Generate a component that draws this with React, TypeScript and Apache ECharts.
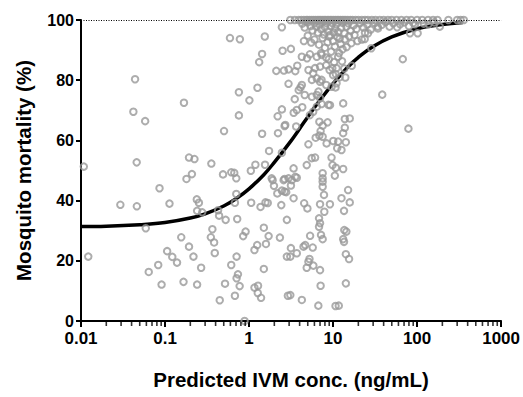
import React, { useEffect, useRef } from 'react';
import * as echarts from 'echarts';

// Axis ticks
const xTickLabels = ['0.01', '0.1', '1', '10', '100', '1000'];
const yTickValues = [0, 20, 40, 60, 80, 100];
const xMinorTicks = [
  0.02, 0.03, 0.04, 0.05, 0.06, 0.07, 0.08, 0.09,
  0.2, 0.3, 0.4, 0.5, 0.6, 0.7, 0.8, 0.9,
  2, 3, 4, 5, 6, 7, 8, 9,
  20, 30, 40, 50, 60, 70, 80, 90,
  200, 300, 400, 500, 600, 700, 800, 900,
];

// Fitted curve
const curveX = [0.01, 0.02, 0.05, 0.1, 0.2, 0.3, 0.5, 0.7, 1, 1.5, 2, 3, 4, 5, 7, 10, 15, 20, 30, 50, 100, 200, 350];
const curveY = [31.4, 31.5, 32.0, 32.7, 34.2, 35.6, 38.2, 40.6, 43.9, 48.6, 52.7, 59.0, 63.9, 67.8, 73.4, 78.9, 84.4, 87.6, 91.2, 94.4, 97.1, 98.5, 99.2];

// Observations below 1 ng/mL
const lowPoints: number[][] = [
  [0.0108, 51.3], [0.0122, 21.4], [0.0294, 38.6], [0.042, 69.5], [0.044, 80.3], [0.046, 52.7], [0.0462, 38.1],
  [0.058, 66.4], [0.059, 30.8], [0.064, 16.3], [0.083, 18.6], [0.086, 44.1], [0.091, 12.1], [0.106, 23.2],
  [0.113, 39.0], [0.122, 21.3], [0.139, 19.4], [0.156, 27.8], [0.166, 13.0], [0.168, 72.5], [0.180, 47.2],
  [0.193, 54.3], [0.193, 24.7], [0.209, 48.8], [0.218, 21.4], [0.224, 53.8], [0.239, 40.4], [0.241, 36.6],
  [0.241, 12.1], [0.253, 39.3], [0.269, 17.7], [0.277, 36.1], [0.351, 27.8], [0.356, 52.3], [0.366, 30.5],
  [0.384, 26.1], [0.391, 22.6], [0.428, 36.8], [0.440, 35.0], [0.448, 6.9], [0.490, 48.7], [0.504, 63.1],
  [0.518, 12.4], [0.527, 33.6], [0.593, 94.0], [0.614, 49.4], [0.614, 18.6], [0.667, 49.2], [0.679, 39.3],
  [0.679, 8.4], [0.705, 47.4], [0.705, 42.2], [0.711, 21.4], [0.711, 14.2], [0.723, 33.9], [0.738, 15.5],
  [0.757, 76.0], [0.757, 68.3], [0.773, 11.6], [0.778, 93.6], [0.851, 28.2], [0.885, 0], [0.910, 29.7],
];

// Observations 1 - 3 ng/mL
const midPoints: number[][] = [
  [1.01, 73.3], [1.05, 49.9], [1.06, 39.3], [1.16, 23.6], [1.16, 11.1], [1.19, 51.9], [1.25, 25.2], [1.26, 77.5],
  [1.27, 9.3], [1.28, 11.7], [1.32, 86.0], [1.37, 37.9], [1.39, 7.7], [1.43, 88.7], [1.43, 62.2], [1.50, 31.0],
  [1.50, 17.3], [1.54, 94.5], [1.55, 51.9], [1.57, 39.4], [1.59, 25.6], [1.67, 39.2], [1.71, 28.2], [1.73, 56.5],
  [1.86, 47.4], [1.91, 46.8], [1.98, 44.9], [2.11, 83.1], [2.17, 42.4], [2.19, 68.0], [2.21, 62.4], [2.33, 27.7],
  [2.42, 38.5], [2.46, 97.6], [2.46, 70.3], [2.46, 55.9], [2.46, 43.3], [2.51, 89.8], [2.58, 46.8], [2.60, 83.2],
  [2.65, 64.8], [2.65, 47.2], [2.65, 43.0], [2.70, 65.1], [2.77, 42.8], [2.82, 33.6], [2.82, 21.4], [2.95, 78.8],
  [2.90, 8.4], [2.95, 83.6], [2.95, 47.4],
];

// Observations 3 - 20 ng/mL
const highPoints: number[][] = [
  [3.10, 21.4], [3.10, 8.6], [3.15, 90.4], [3.15, 45.0], [3.15, 24.2], [3.23, 46.8], [3.39, 50.7], [3.39, 40.8],
  [3.4, 69.2], [3.5, 73.7], [3.55, 83.0], [3.55, 47.9], [3.64, 64.6], [3.70, 47.6], [3.70, 22.5], [3.7, 70.1],
  [3.75, 84.8], [3.9, 76.7], [4.1, 77.6], [4.25, 87.8], [4.25, 78.4], [4.25, 7.0], [4.3, 71.0], [4.45, 24.7],
  [4.53, 39.1], [4.6, 75.1], [4.66, 25.2], [4.86, 51.8], [4.86, 17.7], [4.9, 87.3], [4.95, 37.4], [5.09, 58.7],
  [5.09, 19.7], [5.1, 83.4], [5.24, 20.6], [5.3, 88.6], [5.3, 68.4], [5.33, 28.3], [5.57, 54.1], [5.6, 80.1],
  [5.6, 74.5], [5.73, 24.4], [5.8, 82.3], [5.8, 69.5], [5.83, 18.4], [6.1, 84.0], [6.11, 54.3], [6.21, 60.9],
  [6.4, 87.8], [6.4, 80.6], [6.4, 75.1], [6.4, 71.2], [6.68, 5.1], [6.7, 76.2], [6.81, 34.1], [6.81, 31.3],
  [6.87, 66.2], [6.87, 61.6], [7.0, 84.5], [7.0, 79.5], [7.0, 74.0], [7.0, 38.8], [7.0, 32.5], [7.0, 16.9],
  [7.11, 63.1], [7.11, 11.7], [7.19, 28.6], [7.3, 88.4], [7.3, 80.1], [7.3, 72.1], [7.52, 64.9], [7.52, 61.2],
  [7.52, 49.1], [7.52, 47.4], [7.52, 46.3], [7.52, 44.6], [7.52, 27.2], [7.80, 41.9], [7.87, 36.3], [8.3, 87.5],
  [8.3, 85.0], [8.3, 78.4], [8.38, 59.0], [8.61, 66.0], [8.8, 71.8], [9.1, 83.4], [9.18, 38.8], [9.2, 71.7],
  [9.59, 54.3], [9.6, 77.8], [9.86, 51.8], [10.0, 81.7], [10.05, 59.8], [10.5, 48.3], [10.7, 77.6], [10.7, 5.0],
  [10.8, 50.9], [11.0, 84.0], [11.0, 79.0], [11.2, 57.4], [11.5, 59.6], [11.7, 5.1], [12.6, 56.8], [12.6, 40.8],
  [13.2, 72.3], [13.2, 62.4], [13.2, 50.5], [13.2, 27.2], [13.5, 36.6], [13.5, 26.3], [13.6, 83.9], [13.6, 30.2],
  [13.8, 67.1], [13.8, 64.2], [14.0, 80.9], [14.2, 59.4], [14.2, 22.2], [14.2, 12.5], [14.4, 29.7], [15.1, 43.5],
  [15.5, 20.6], [15.8, 67.3], [15.8, 39.4], [16.7, 84.8],
];

// Dense wedge of high mortality observations
const wedgePoints: number[][] = [
  [6.0, 93.5], [6.8, 91.8], [7.5, 94.0], [8.0, 90.8], [8.6, 92.6], [9.2, 95.0], [9.5, 89.5], [10.0, 93.0],
  [10.5, 91.2], [11.2, 94.4], [11.8, 89.0], [12.3, 92.0], [13.0, 90.3], [13.8, 93.6], [14.5, 91.0], [15.5, 94.6],
  [16.5, 92.3], [18, 95.0], [19.5, 93.0], [5.5, 92.5], [5.0, 94.8], [4.5, 93.0], [7.2, 89.0], [8.9, 87.0],
  [10.3, 86.0], [11.5, 87.8], [12.8, 86.3], [9.8, 84.0], [10.8, 82.0], [12.0, 81.0], [22, 93.5], [24, 95.8],
  [23.8, 93.7], [26.1, 95.6], [28.5, 90.6], [34.2, 97.2],
];

// Near-saturated observations (95-99.5 %)
const nearTopPoints: number[][] = [
  [4.3, 98.8], [4.6, 97.5], [5.0, 99.2], [5.4, 98.0], [5.7, 96.5], [6.0, 99.0], [6.3, 97.8], [6.6, 95.8],
  [6.9, 98.5], [7.2, 96.9], [7.5, 99.3], [7.8, 95.2], [8.0, 97.6], [8.4, 98.9], [8.7, 96.2], [9.0, 94.5],
  [9.4, 97.9], [9.8, 99.0], [10.2, 95.8], [10.6, 97.2], [11.0, 98.6], [11.5, 96.0], [12.0, 93.8], [12.5, 97.5],
  [13.0, 99.1], [13.7, 95.5], [14.4, 97.8], [15.2, 98.9], [16.2, 96.4], [17.5, 98.2], [19.0, 97.0], [21, 99.0],
  [23, 97.5], [25.5, 98.5], [28, 96.8], [31, 99.1], [34, 97.8], [38, 98.4], [42, 99.3], [47, 97.8], [52, 98.9],
  [58, 97.6], [62.8, 98.6], [70, 99.2], [80, 98.0], [82.4, 95.6], [90, 99.0], [94.4, 98.6], [101.6, 95.6],
  [120, 98.8], [137, 98.6], [160, 99.2], [186.6, 97.8],
];

// Sparse right-hand observations
const rightPoints: number[][] = [
  [38.5, 75.2], [67.6, 87.0], [78.9, 63.9],
];

// Observations at 100 % mortality (x values)
const top100X = [
  3.1, 3.5, 3.9, 4.2, 4.5, 4.8, 5.0, 5.3, 5.6, 5.9, 6.2, 6.5, 6.8, 7.1, 7.4, 7.8, 8.1, 8.5, 8.9, 9.3, 9.7,
  10.2, 10.7, 11.2, 11.7, 12.3, 12.9, 13.5, 14.2, 15, 16, 17, 18.5, 20, 22, 24, 26, 29, 32, 36, 40, 45, 50,
  57, 65, 75, 85, 100, 115, 135, 155, 175, 236, 300, 330, 360,
];

const FONT = 'Liberation Sans, Arial, Helvetica, sans-serif';

export default function App() {
  const ref = useRef<HTMLDivElement>(null);
  useEffect(() => {
    const chart = echarts.init(ref.current!, null, { renderer: 'svg' });
    const scatterData = [
      ...lowPoints,
      ...midPoints,
      ...highPoints,
      ...wedgePoints,
      ...nearTopPoints,
      ...rightPoints,
      ...top100X.map((x) => [x, 100]),
    ];
    chart.setOption({
      animation: false,
      backgroundColor: '#ffffff',
      grid: { left: 81, right: 19, top: 20, bottom: 76 },
      xAxis: {
        type: 'log',
        logBase: 10,
        min: 0.01,
        max: 1000,
        splitNumber: 5,
        name: 'Predicted IVM conc. (ng/mL)',
        nameLocation: 'middle',
        nameGap: 48,
        nameTextStyle: { fontFamily: FONT, fontSize: 20.5, fontWeight: 'bold', color: '#000' },
        axisLine: { show: true, lineStyle: { color: '#000', width: 2 } },
        axisTick: { show: true, length: 6, lineStyle: { color: '#000', width: 2 } },
        axisLabel: {
          margin: 10,
          fontFamily: FONT,
          fontSize: 17,
          lineHeight: 15,
          fontWeight: 'bold',
          color: '#000',
          formatter: (v: number) => {
            const e = Math.round(Math.log10(v));
            return xTickLabels[e + 2] ?? '';
          },
        },
        splitLine: { show: false },
      },
      yAxis: {
        type: 'value',
        min: 0,
        max: 100,
        interval: 20,
        name: 'Mosquito mortality (%)',
        nameLocation: 'middle',
        nameGap: 47,
        nameTextStyle: { fontFamily: FONT, fontSize: 20.5, fontWeight: 'bold', color: '#000' },
        axisLine: { show: true, lineStyle: { color: '#000', width: 2 } },
        axisTick: { show: true, length: 5, lineStyle: { color: '#000', width: 2 } },
        axisLabel: {
          margin: 7,
          fontFamily: FONT,
          fontSize: 16,
          lineHeight: 14,
          fontWeight: 'bold',
          color: '#000',
          formatter: (v: number) => (yTickValues.includes(v) ? String(v) : ''),
        },
        splitLine: { show: false },
      },
      series: [
        {
          type: 'line',
          data: curveX.map((x, i) => [x, curveY[i]]),
          smooth: 0.4,
          showSymbol: false,
          symbol: 'none',
          lineStyle: { color: '#000', width: 3.5 },
          z: 2,
          markLine: {
            silent: true,
            symbol: 'none',
            label: { show: false },
            lineStyle: { color: '#000', width: 1, type: [1, 1.5] },
            data: [{ yAxis: 100 }],
          },
        },
        {
          type: 'scatter',
          data: scatterData,
          symbol: 'circle',
          symbolSize: 6.5,
          clip: false,
          itemStyle: { color: 'rgba(0,0,0,0)', borderColor: '#999999', borderWidth: 2 },
          z: 3,
        },
        {
          type: 'scatter',
          data: xMinorTicks.map((x) => [x, 0]),
          symbol: 'rect',
          symbolSize: [1.6, 4],
          symbolOffset: [0, 3],
          clip: false,
          silent: true,
          itemStyle: { color: '#000' },
          z: 4,
        },
      ],
    });
    return () => chart.dispose();
  }, []);
  return <div ref={ref} style={{ position: 'absolute', left: 0, top: 0, width: 523, height: 397 }} />;
}
